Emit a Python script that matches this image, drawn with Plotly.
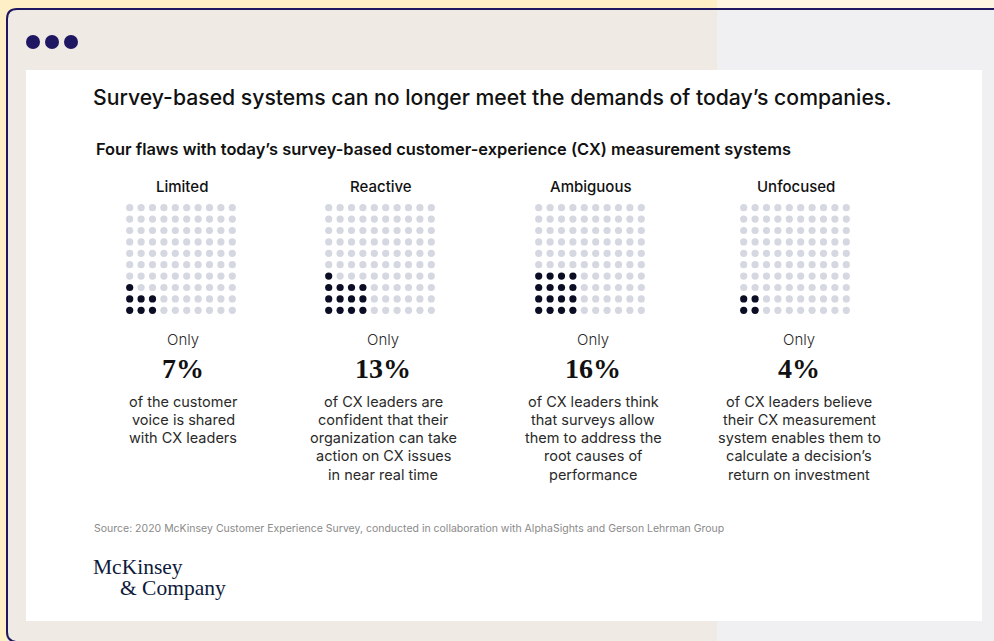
import math
import plotly.graph_objects as go

# ---------------- data ----------------
categories = ["Limited", "Reactive", "Ambiguous", "Unfocused"]
values = [7, 13, 16, 4]
value_labels = ["7%", "13%", "16%", "4%"]
descriptions = [
    ["of the customer", "voice is shared", "with CX leaders"],
    ["of CX leaders are", "confident that their", "organization can take",
     "action on CX issues", "in near real time"],
    ["of CX leaders think", "that surveys allow", "them to address the",
     "root causes of", "performance"],
    ["of CX leaders believe", "their CX measurement", "system enables them to",
     "calculate a decision\u2019s", "return on investment"],
]
title = "Survey-based systems can no longer meet the demands of today\u2019s companies."
subtitle = "Four flaws with today\u2019s survey-based customer-experience (CX) measurement systems"
source = ("Source: 2020 McKinsey Customer Experience Survey, conducted in collaboration "
          "with AlphaSights and Gerson Lehrman Group")

# ---------------- layout helpers ----------------
W, H = 994, 641
NAVY = "#1F1762"
DARK = "#0B0D24"
LIGHT = "#D5D8E1"
SANS = "Inter, 'Liberation Sans', Arial, sans-serif"
SERIF = "'Liberation Serif', 'Times New Roman', serif"

def px(x):
    return x / W

def py(y):
    return 1 - y / H

grid_centers_x = [181, 380, 590, 795]
text_centers_x = [183, 383, 593, 799]
grid_top, grid_bottom = 208, 310
step = 11.4

fig = go.Figure()

# invisible base trace on the pixel-space axis
fig.add_trace(go.Scatter(x=[0, W], y=[0, H], mode="markers",
                         marker=dict(opacity=0), hoverinfo="skip",
                         showlegend=False, xaxis="x", yaxis="y"))

layout_axes = {}
for k, (cat, val) in enumerate(zip(categories, values)):
    idx = k + 2
    w = math.ceil(math.sqrt(val))
    xs_l, ys_l, xs_d, ys_d = [], [], [], []
    dark = set()
    for i in range(val):
        dark.add((i % w, i // w))
    for r in range(10):
        for c in range(10):
            if (c, r) in dark:
                xs_d.append(c); ys_d.append(r)
            else:
                xs_l.append(c); ys_l.append(r)
    fig.add_trace(go.Scatter(x=xs_l, y=ys_l, mode="markers",
                             marker=dict(size=7.2, color=LIGHT, line=dict(width=0)),
                             hoverinfo="skip", showlegend=False,
                             xaxis=f"x{idx}", yaxis=f"y{idx}"))
    fig.add_trace(go.Scatter(x=xs_d, y=ys_d, mode="markers",
                             marker=dict(size=7.2, color=DARK, line=dict(width=0)),
                             hoverinfo="skip", showlegend=False,
                             xaxis=f"x{idx}", yaxis=f"y{idx}"))
    cx = grid_centers_x[k]
    half = step * 5
    cy = (grid_top + grid_bottom) / 2
    layout_axes[f"xaxis{idx}"] = dict(domain=[px(cx - half), px(cx + half)],
                                      range=[-0.5, 9.5], visible=False,
                                      fixedrange=True, anchor=f"y{idx}")
    layout_axes[f"yaxis{idx}"] = dict(domain=[py(cy + half), py(cy - half)],
                                      range=[-0.5, 9.5], visible=False,
                                      fixedrange=True, anchor=f"x{idx}")

shapes = [
    # outer yellow
    dict(type="rect", xref="x", yref="y", x0=0, y0=0, x1=W, y1=H,
         fillcolor="#FFEFC6", line=dict(width=0), layer="below"),
    dict(type="rect", xref="x", yref="y", x0=717, y0=0, x1=W, y1=9,
         fillcolor="#FDF5E1", line=dict(width=0), layer="below"),
    # beige body
    dict(type="path", xref="x", yref="y",
         path="M 7,645 L 7,19 Q 7,9 17,9 L 717,9 L 717,645 Z",
         fillcolor="#EFEBE4", line=dict(width=0), layer="below"),
    # grey right
    dict(type="rect", xref="x", yref="y", x0=717, y0=9, x1=W, y1=H,
         fillcolor="#F0F0F3", line=dict(width=0), layer="below"),
    # navy border
    dict(type="path", xref="x", yref="y",
         path="M 16,642 Q 7,641 7,632 L 7,19 Q 7,9 17,9 L 1000,9",
         line=dict(color=NAVY, width=2), layer="below"),
    # white card
    dict(type="rect", xref="x", yref="y", x0=26, y0=70, x1=982, y1=621,
         fillcolor="white", line=dict(width=0), layer="below"),
]
for cx in [33, 52, 71]:
    shapes.append(dict(type="circle", xref="x", yref="y", x0=cx - 7, x1=cx + 7,
                       y0=35, y1=49, fillcolor=NAVY, line=dict(width=0),
                       layer="below"))

ann = []

def text(x, y, s, size, color="#111111", family=SANS, weight=None,
         xanchor="left"):
    f = dict(size=size, color=color, family=family)
    if weight is not None:
        f["weight"] = weight
    ann.append(dict(x=px(x), y=py(y), xref="paper", yref="paper", text=s,
                    showarrow=False, xanchor=xanchor, yanchor="middle",
                    font=f))

text(91, 97, title, 21.2, weight=500)
text(94, 149, subtitle, 16.4, weight=600)
for k, cat in enumerate(categories):
    text(grid_centers_x[k] + 1, 187, cat, 15, weight=500, xanchor="center")
    tx = text_centers_x[k]
    text(tx, 339, "Only", 15, color="#2A2A2A", weight=300, xanchor="center")
    text(tx, 368, value_labels[k], 28, color="#111111", family=SERIF,
         weight=700, xanchor="center")
    for j, line in enumerate(descriptions[k]):
        text(tx, 401 + 18.3 * j, line, 14.5, color="#2A2A2A", weight=400,
             xanchor="center")
text(92, 528, source, 10.5, color="#8A8A8A")
text(91, 567, "McKinsey", 21.5, color="#0E1A3B", family=SERIF)
text(118, 588, "&amp; Company", 21.5, color="#0E1A3B", family=SERIF)

fig.update_layout(
    width=W, height=H,
    margin=dict(l=0, r=0, t=0, b=0, pad=0),
    paper_bgcolor="white", plot_bgcolor="rgba(0,0,0,0)",
    showlegend=False,
    xaxis=dict(domain=[0, 1], range=[0, W], visible=False, fixedrange=True),
    yaxis=dict(domain=[0, 1], range=[H, 0], visible=False, fixedrange=True),
    shapes=shapes, annotations=ann,
    **layout_axes,
)

fig.write_html("out.html", config={"displayModeBar": False},
               post_script="document.body.style.margin='0';"
                           "document.body.style.overflow='hidden';")
